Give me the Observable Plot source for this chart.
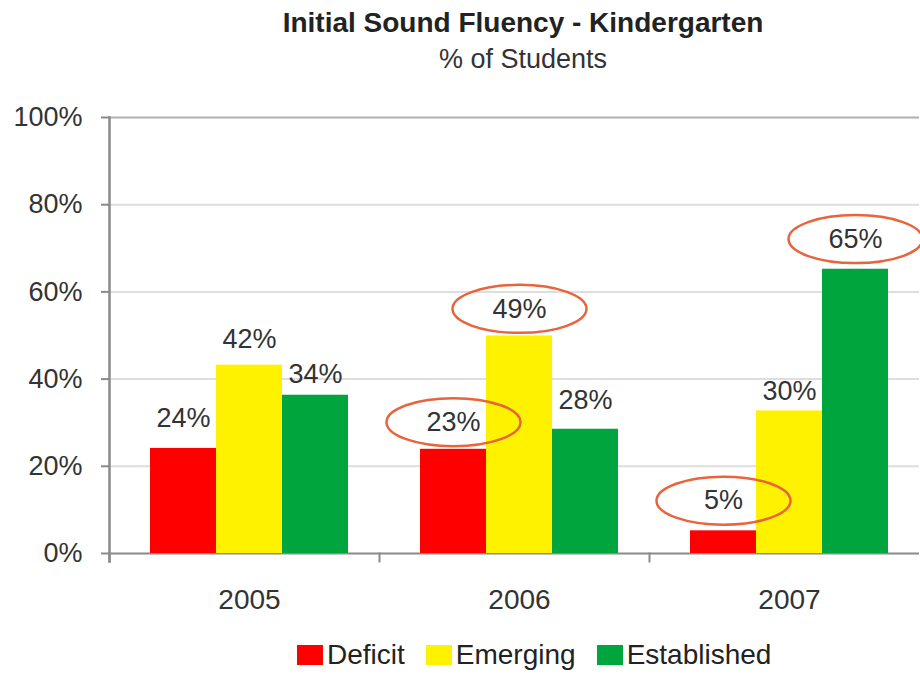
<!DOCTYPE html>
<html>
<head>
<meta charset="utf-8">
<script src="https://cdn.jsdelivr.net/npm/d3@7"></script>
<script src="https://cdn.jsdelivr.net/npm/@observablehq/plot@0.6"></script>
<style>
  body { margin: 0; background: #fff; font-family: "Liberation Sans", Arial, sans-serif; color: #222; }
  #page { position: relative; width: 920px; height: 675px; overflow: hidden; }
  .t { position: absolute; left: 0; width: 1046px; text-align: center; white-space: nowrap; }
  #title { top: 7px; font-size: 28px; font-weight: bold; }
  #subtitle { top: 44px; font-size: 27px; color: #333; }
  #chart { position: absolute; left: 0; top: 90px; }
  #chart svg { display: block; }
  #legend { position: absolute; left: 297px; top: 641px; display: flex; align-items: center; font-size: 28px; color: #222; line-height: 28px; }
  .sw { width: 26px; height: 20px; margin-right: 4px; }
  .lab { margin-right: 21px; }
</style>
</head>
<body>
<div id="page">
  <div id="title" class="t">Initial Sound Fluency - Kindergarten</div>
  <div id="subtitle" class="t">% of Students</div>
  <div id="chart"></div>
  <div id="legend"></div>
</div>
<script>
// ---- data ----
const years = ["2005", "2006", "2007"];
const series = ["Deficit", "Emerging", "Established"];
const colors = ["#ff0000", "#fff200", "#00a53d"];
// bar heights as drawn (%)
const deficit = [24.1, 23.9, 5.2];
const emerging = [43.2, 49.9, 32.7];
const established = [36.3, 28.5, 65.2];
// printed label values (%)
const deficitLabels = [24, 23, 5];
const emergingLabels = [42, 49, 30];
const establishedLabels = [34, 28, 65];
// which labels are circled
const deficitCircled = [false, true, true];
const emergingCircled = [false, true, false];
const establishedCircled = [false, false, true];
const yTicks = [0, 20, 40, 60, 80, 100];

const seriesValues = [deficit, emerging, established];
const seriesLabels = [deficitLabels, emergingLabels, establishedLabels];
const seriesCircled = [deficitCircled, emergingCircled, establishedCircled];

const rows = [];
years.forEach((year, i) => {
  series.forEach((s, j) => {
    rows.push({year, series: s, value: seriesValues[j][i], label: seriesLabels[j][i], circled: seriesCircled[j][i]});
  });
});

// ellipse symbol
const K = 0.5522847498;
const ellipse = {
  draw(ctx) {
    const rx = 67, ry = 24;
    ctx.moveTo(rx, 0);
    ctx.bezierCurveTo(rx, ry * K, rx * K, ry, 0, ry);
    ctx.bezierCurveTo(-rx * K, ry, -rx, ry * K, -rx, 0);
    ctx.bezierCurveTo(-rx, -ry * K, -rx * K, -ry, 0, -ry);
    ctx.bezierCurveTo(rx * K, -ry, rx, -ry * K, rx, 0);
    ctx.closePath();
  }
};

const chart = Plot.plot({
  width: 920,
  height: 533,
  marginTop: 27,
  marginBottom: 70,
  marginLeft: 109,
  marginRight: 1,
  style: {fontFamily: "'Liberation Sans', Arial, sans-serif", background: "white"},
  fx: {domain: years, padding: 0, axis: null, label: null},
  x: {domain: series, paddingInner: 0, paddingOuter: 0.535, axis: null},
  y: {domain: [0, 100], axis: null},
  color: {domain: series, range: colors},
  marks: [
    Plot.ruleY(yTicks.filter(d => d > 0 && d < 100), {y: d => d, stroke: "#dedede", strokeWidth: 2}),
    Plot.ruleY([100], {stroke: "#b0b0b0", strokeWidth: 2}),
    Plot.ruleY([0], {stroke: "#8a8a8a", strokeWidth: 2}),
    Plot.frame({anchor: "left", stroke: "#8a8a8a", strokeWidth: 2, insetTop: 436, insetBottom: -8}),
    Plot.frame({anchor: "left", facetAnchor: "left", stroke: "#8a8a8a", strokeWidth: 2.5, insetBottom: -8}),
    Plot.axisY(yTicks, {tickSize: 8, tickPadding: 19, stroke: "#8a8a8a", strokeWidth: 2, fill: "#333", fontSize: 27, tickFormat: d => d + "%", label: null}),
    Plot.barY(rows, {fx: "year", x: "series", y: "value", fill: "series", dx: 5}),
    Plot.text(rows, {fx: "year", x: "series", y: "label", text: d => d.label + "%", dy: -31, dx: 5, fontSize: 27, fill: "#333"}),
    Plot.dot(rows.filter(d => d.circled), {fx: "year", x: "series", y: "label", dy: -31, dx: 5, symbol: ellipse, stroke: "#e8643c", strokeWidth: 2.5, fill: "none"}),
    Plot.axisFx({anchor: "bottom", tickSize: 0, tickPadding: 36, fontSize: 28, dx: 5, fill: "#333", label: null})
  ]
});
document.getElementById("chart").append(chart);

// legend
const legend = document.getElementById("legend");
series.forEach((s, j) => {
  const sw = document.createElement("div");
  sw.className = "sw";
  sw.style.background = colors[j];
  const lab = document.createElement("div");
  lab.className = "lab";
  lab.textContent = s;
  legend.append(sw, lab);
});
</script>
</body>
</html>
